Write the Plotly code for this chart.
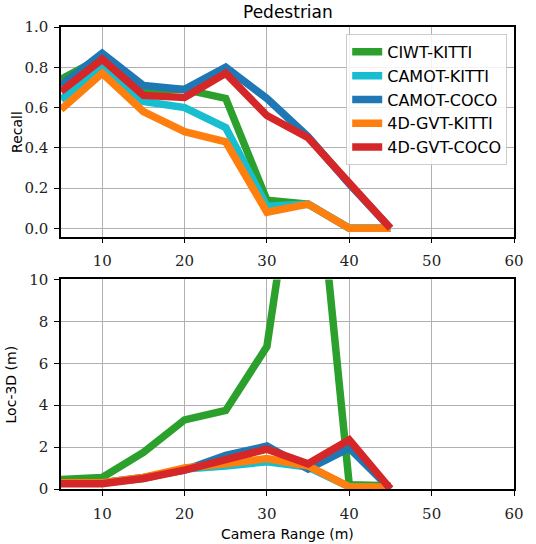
import plotly.graph_objects as go
from plotly.subplots import make_subplots

camera_range = [5, 10, 15, 20, 25, 30, 35, 40, 45]

series_names = ["CIWT-KITTI", "CAMOT-KITTI", "CAMOT-COCO", "4D-GVT-KITTI", "4D-GVT-COCO"]
series_colors = ["#2ca02c", "#17becf", "#1f77b4", "#ff7f0e", "#d62728"]

recall_ciwt_kitti = [0.74, 0.85, 0.69, 0.69, 0.645, 0.14, 0.12, 0.0, 0.0]
recall_camot_kitti = [0.64, 0.80, 0.63, 0.60, 0.50, 0.11, 0.12, 0.0, 0.0]
recall_camot_coco = [0.71, 0.87, 0.71, 0.69, 0.80, 0.645, 0.455, 0.22, 0.0]
recall_4dgvt_kitti = [0.59, 0.77, 0.58, 0.48, 0.43, 0.08, 0.12, 0.0, 0.0]
recall_4dgvt_coco = [0.68, 0.84, 0.66, 0.65, 0.77, 0.56, 0.45, 0.22, 0.0]

loc_ciwt_kitti = [0.45, 0.55, 1.75, 3.3, 3.75, 6.8, 20.0, 0.2, 0.15]
loc_camot_kitti = [0.3, 0.3, 0.5, 0.95, 1.1, 1.3, 1.05, 0.1, 0.1]
loc_camot_coco = [0.3, 0.3, 0.55, 0.9, 1.6, 2.05, 0.95, 1.95, 0.0]
loc_4dgvt_kitti = [0.3, 0.3, 0.55, 1.0, 1.2, 1.45, 1.1, 0.1, 0.1]
loc_4dgvt_coco = [0.25, 0.25, 0.5, 0.9, 1.4, 1.9, 1.2, 2.35, 0.0]

recall_series = [recall_ciwt_kitti, recall_camot_kitti, recall_camot_coco, recall_4dgvt_kitti, recall_4dgvt_coco]
loc_series = [loc_ciwt_kitti, loc_camot_kitti, loc_camot_coco, loc_4dgvt_kitti, loc_4dgvt_coco]

x_ticks = [10, 20, 30, 40, 50, 60]
recall_ticks = [0.0, 0.2, 0.4, 0.6, 0.8, 1.0]
loc_ticks = [0, 2, 4, 6, 8, 10]

fig = make_subplots(rows=2, cols=1)

LW = 7.5
for name, color, ys in zip(series_names, series_colors, recall_series):
    fig.add_trace(go.Scatter(x=camera_range, y=ys, mode="lines", name=name,
                             line=dict(color=color, width=LW)), row=1, col=1)
for name, color, ys in zip(series_names, series_colors, loc_series):
    fig.add_trace(go.Scatter(x=camera_range, y=ys, mode="lines", name=name, showlegend=False,
                             line=dict(color=color, width=LW)), row=2, col=1)

tick_font = dict(family="DejaVu Serif", size=15, color="#222222")
label_font = dict(family="DejaVu Sans", size=14, color="black")

axis_common = dict(showline=True, mirror=True, linecolor="black", linewidth=1.5,
                   ticks="outside", ticklen=5, tickwidth=1.2, tickcolor="black",
                   showgrid=True, gridcolor="#b0b0b0", gridwidth=1.3,
                   zeroline=False, tickfont=tick_font)

fig.update_layout(
    width=536, height=544,
    margin=dict(l=61, r=12, t=27, b=55),
    plot_bgcolor="white", paper_bgcolor="white",
    xaxis=dict(domain=[0, 1], range=[5, 60], tickvals=x_ticks, ticklabelstandoff=5, **axis_common),
    yaxis=dict(domain=[0.546, 1.0], range=[-0.042, 1.0], tickvals=recall_ticks,
               tickformat=".1f", ticklabelstandoff=3, **axis_common),
    xaxis2=dict(domain=[0, 1], range=[5, 60], tickvals=x_ticks, ticklabelstandoff=5, **axis_common),
    yaxis2=dict(domain=[0.0, 0.4535], range=[0, 10], tickvals=loc_ticks,
                ticklabelstandoff=3, **axis_common),
    legend=dict(x=0.985, y=0.985, xanchor="right", yanchor="top",
                bgcolor="rgba(255,255,255,0.85)", bordercolor="#cccccc", borderwidth=1,
                font=dict(family="DejaVu Sans", size=16, color="black"),
                tracegroupgap=0, itemwidth=30),
    showlegend=True,
)

fig.add_annotation(text="Pedestrian", xref="paper", yref="paper", x=0.5, y=1.0,
                   xanchor="center", yanchor="bottom", yshift=3, showarrow=False,
                   font=dict(family="DejaVu Sans", size=17, color="black"))
fig.add_annotation(text="Recall", xref="paper", yref="paper", x=-0.097, y=0.773,
                   xanchor="center", yanchor="middle",
                   textangle=-90, showarrow=False, font=label_font)
fig.add_annotation(text="Loc-3D (m)", xref="paper", yref="paper", x=-0.11, y=0.2267,
                   xanchor="center", yanchor="middle",
                   textangle=-90, showarrow=False, font=label_font)
fig.add_annotation(text="Camera Range (m)", xref="paper", yref="paper", x=0.5, y=-0.098,
                   xanchor="center", yanchor="middle", showarrow=False, font=label_font)

fig.write_html("out.html")
